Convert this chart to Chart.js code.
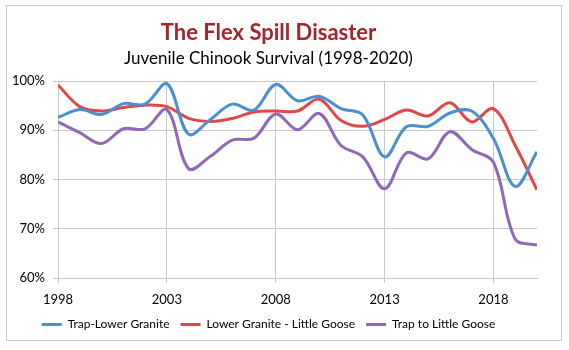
<!DOCTYPE html>
<html>
<head>
<meta charset="utf-8">
<script src="https://cdn.jsdelivr.net/npm/chart.js@4.4.1/dist/chart.umd.min.js"></script>
<style>
  html, body { margin: 0; padding: 0; background: #fff; }
  #wrap { position: relative; width: 569px; height: 350px; }
  #frame {
    position: absolute; left: 6px; top: 5px; width: 556px; height: 336px;
    border: 1px solid #c9c9c9; box-sizing: border-box; pointer-events: none;
  }
</style>
</head>
<body>
<div id="wrap">
  <canvas id="chart" width="569" height="350"></canvas>
  <div id="frame"></div>
</div>
<script>
// Survival by year, in percent
const years = [1998, 1999, 2000, 2001, 2002, 2003, 2004, 2005, 2006, 2007, 2008, 2009,
  2010, 2011, 2012, 2013, 2014, 2015, 2016, 2017, 2018, 2019, 2020];

const trapLowerGranite = [92.6, 94.2, 93.2, 95.4, 95.3, 99.5, 89.2, 92.2, 95.3, 94.1, 99.3, 96.0,
  96.9, 94.4, 93.1, 84.6, 90.7, 90.8, 93.5, 93.9, 88.3, 78.6, 85.6];

const lowerGraniteLittleGoose = [99.2, 94.8, 93.9, 94.6, 95.1, 94.8, 92.4, 91.8, 92.4, 93.7, 93.9, 93.9,
  96.3, 92.0, 90.8, 92.2, 94.1, 92.9, 95.6, 91.7, 94.4, 86.9, 77.9];

const trapLittleGoose = [91.7, 89.5, 87.3, 90.3, 90.3, 94.2, 82.2, 84.7, 88.0, 88.4, 93.3, 90.1,
  93.4, 86.9, 84.6, 78.1, 85.4, 84.2, 89.7, 86.1, 83.5, 67.9, 66.7];

const xTicks = [1998, 2003, 2008, 2013, 2018];
const yTicks = [60, 70, 80, 90, 100];

const FONT = 'Lato, "Noto Sans", sans-serif';
const GRID = '#c8c8c8';

function series(label, values, color) {
  return {
    label: label,
    data: years.map((y, i) => ({ x: y, y: values[i] })),
    borderColor: color,
    backgroundColor: color,
    borderWidth: 3,
    pointRadius: 0,
    tension: 0.35,
    fill: false
  };
}

new Chart(document.getElementById('chart'), {
  type: 'line',
  data: {
    datasets: [
      series('Trap-Lower Granite', trapLowerGranite, '#4a8fd0'),
      series('Lower Granite - Little Goose', lowerGraniteLittleGoose, '#e04848'),
      series('Trap to Little Goose', trapLittleGoose, '#9068b8')
    ]
  },
  options: {
    responsive: false,
    animation: false,
    layout: { padding: { left: 0, right: 32, top: 0, bottom: 9.5 } },
    plugins: {
      title: {
        display: true,
        text: 'The Flex Spill Disaster',
        color: '#a4262c',
        font: { family: FONT, size: 22, weight: 'bold' },
        padding: { top: 20, bottom: 0 }
      },
      subtitle: {
        display: true,
        text: 'Juvenile Chinook Survival (1998-2020)',
        color: '#000',
        font: { family: FONT, size: 17 },
        padding: { top: 1.6, bottom: 12.6 }
      },
      legend: {
        position: 'bottom',
        labels: {
          color: '#000',
          font: { family: FONT, size: 12 },
          usePointStyle: true,
          pointStyle: 'line',
          pointStyleWidth: 20,
          padding: 11
        }
      },
      tooltip: { enabled: false }
    },
    scales: {
      x: {
        type: 'linear',
        min: 1998,
        max: 2020,
        afterBuildTicks: (scale) => { scale.ticks = xTicks.map(v => ({ value: v })); },
        afterFit: (scale) => { scale.height = 29.5; },
        grid: { color: GRID, tickLength: 5 },
        border: { color: GRID },
        ticks: {
          color: '#000',
          font: { family: FONT, size: 13 },
          padding: 9,
          maxRotation: 0,
          callback: (v) => String(v)
        }
      },
      y: {
        min: 60,
        max: 100,
        afterBuildTicks: (scale) => { scale.ticks = yTicks.map(v => ({ value: v })); },
        afterFit: (scale) => { scale.width = 58; },
        grid: { color: GRID, tickLength: 5 },
        border: { color: GRID },
        ticks: {
          color: '#000',
          font: { family: FONT, size: 13 },
          padding: 8,
          callback: (v) => v + '%'
        }
      }
    }
  }
});
</script>
</body>
</html>
